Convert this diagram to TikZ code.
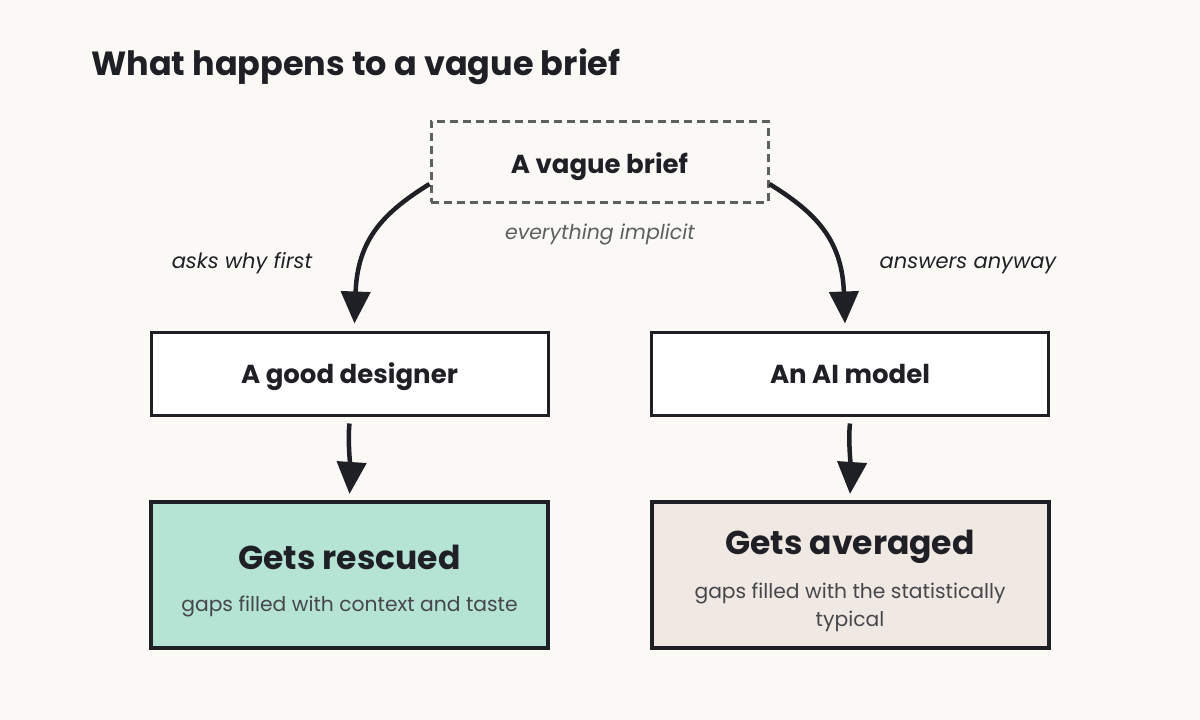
\documentclass[tikz,border=0pt]{standalone}
\usepackage{fontspec}
\setmainfont{Poppins}
\usetikzlibrary{arrows.meta}
\definecolor{bg}{HTML}{FAF9F5}
\definecolor{ink}{HTML}{1F2026}
\definecolor{dashgrey}{HTML}{5B625E}
\definecolor{subgrey}{HTML}{45474B}
\definecolor{mint}{HTML}{B5E3D4}
\definecolor{sand}{HTML}{EFE8E3}
\tikzset{
  box/.style={draw=ink, line width=3pt, fill=white, minimum width=397pt, minimum height=83pt, inner sep=0pt},
  outbox/.style={draw=ink, line width=4pt, minimum width=397pt, minimum height=146pt, inner sep=0pt},
  briefbox/.style={draw=dashgrey, line width=3pt, dash pattern=on 8pt off 5pt, minimum width=337pt, minimum height=81pt, inner sep=0pt},
  conn/.style={draw=ink, line width=4.5pt, -{Triangle[width=29pt,length=32pt]}},
  lbl/.style={anchor=base, inner sep=0pt, font=\fontsize{21}{25}\selectfont\itshape, text=ink},
  boxtxt/.style={anchor=base, inner sep=0pt, font=\fontsize{26}{30}\selectfont\bfseries, text=ink},
  bigtxt/.style={anchor=base, inner sep=0pt, font=\fontsize{33}{38}\selectfont\bfseries, text=ink},
  subtxt/.style={anchor=base, inner sep=0pt, font=\fontsize{20.3}{24}\selectfont, text=subgrey},
}
\begin{document}
\begin{tikzpicture}[x=1pt,y=-1pt]
\fill[bg] (0,0) rectangle (1200,720);
\useasboundingbox (0,0) rectangle (1200,720);
\node[anchor=base west, inner sep=0pt, font=\fontsize{33.5}{40}\selectfont\bfseries, text=ink] (title) at (91,75) {What happens to a vague brief};
\node[briefbox] (brief) at (599.5,161.5) {};
\node[boxtxt] (brieft) at (599.5,173) {A vague brief};
\node[anchor=base, inner sep=0pt, font=\fontsize{20.5}{24}\selectfont\itshape, text=dashgrey] (impl) at (600,239) {everything implicit};
\node[box] (midL) at (349.5,373.5) {};
\node[boxtxt] (midLt) at (349.5,383) {A good designer};
\node[box] (midR) at (850,373.5) {};
\node[boxtxt] (midRt) at (850,383) {An AI model};
\node[outbox, fill=mint] (botL) at (349.5,575) {};
\node[outbox, fill=sand] (botR) at (850,575) {};
\node[bigtxt] (botLt) at (349.5,569) {Gets rescued};
\node[subtxt] (botLs) at (349.5,611) {gaps filled with context and taste};
\node[bigtxt] (botRt) at (850,554) {Gets averaged};
\node[subtxt] (botRs1) at (850,598) {gaps filled with the statistically};
\node[subtxt] (botRs2) at (850,626) {typical};
\node[lbl] (lblL) at (242,268) {asks why first};
\node[lbl] (lblR) at (968,268) {answers anyway};
\draw[conn] ([yshift=-22.5pt]brief.west) .. controls +(-45,28) and +(3,-85) .. ([xshift=5pt,yshift=7pt]midL.north);
\draw[conn] ([yshift=-22.5pt]brief.east) .. controls +(45,28) and +(-3,-85) .. ([xshift=-5pt,yshift=7pt]midR.north);
\draw[conn] ([yshift=-7pt]midL.south) .. controls +(-2,15) and +(1,-15) .. ([yshift=6pt]botL.north);
\draw[conn] ([yshift=-7pt]midR.south) .. controls +(-2,15) and +(1,-15) .. ([yshift=6pt]botR.north);
\end{tikzpicture}
\end{document}
